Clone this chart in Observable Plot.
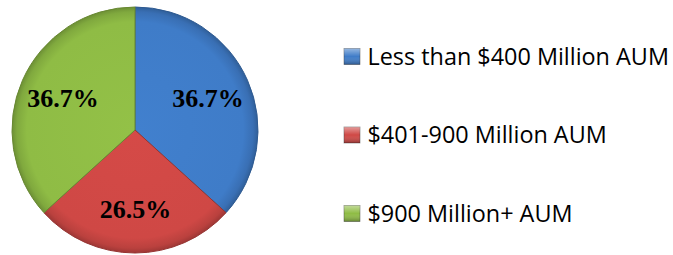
<!DOCTYPE html>
<html><head><meta charset="utf-8">
<script src="https://cdn.jsdelivr.net/npm/d3@7"></script>
<script src="https://cdn.jsdelivr.net/npm/@observablehq/plot@0.6"></script>
<style>body{margin:0;background:#fff}</style>
</head><body><div id="chart"></div>
<script>
const categories = ["Less than $400 Million AUM", "$401-900 Million AUM", "$900 Million+ AUM"];
const shares = [36.7, 26.5, 36.7];
const labels = ["36.7%", "26.5%", "36.7%"];

const palette = ["#3f7cc8", "#cf4845", "#8fbc45"];
const W = 673, H = 255;
const cx = 135, cy = 130, R = 123;

const data = categories.map((c, i) => ({category: c, share: shares[i], label: labels[i], i}));
const slices = d3.pie().sort(null).value(d => d.share)(data);
const labelArc = d3.arc().innerRadius(R * 0.645).outerRadius(R * 0.645);
const labelData = slices.map(s => {
  const [dx, dy] = labelArc.centroid(s);
  return {x: cx + dx, y: cy + dy, text: s.data.label};
});

const legendTop = 56.5, legendStep = 78.5, sw = 16, swX = 344, textX = 367;
const legendData = data.map((d, i) => {
  const y = legendTop + i * legendStep;
  return {...d, y, x1: swX, x2: swX + sw, y1: y - sw / 2, y2: y + sw / 2, tx: textX};
});

function pieMark(index, scales) {
  const g = d3.create("svg:g");
  const defs = g.append("defs");
  const px = scales.x(cx), py = scales.y(cy);
  const rr = scales.x(cx + R) - px;
  palette.forEach((c, i) => {
    const grad = defs.append("radialGradient").attr("id", "pg" + i)
      .attr("gradientUnits", "userSpaceOnUse").attr("cx", 0).attr("cy", 0).attr("r", rr);
    const base = d3.color(c);
    grad.append("stop").attr("offset", 0).attr("stop-color", base.brighter(0.08));
    grad.append("stop").attr("offset", 0.88).attr("stop-color", base);
    grad.append("stop").attr("offset", 0.96).attr("stop-color", base.darker(0.3));
    grad.append("stop").attr("offset", 1).attr("stop-color", base.darker(0.75));
  });
  const sh = defs.append("linearGradient").attr("id", "shine").attr("x1", 0).attr("y1", 0).attr("x2", 0).attr("y2", 1);
  sh.append("stop").attr("offset", 0).attr("stop-color", "#fff").attr("stop-opacity", 0.45);
  sh.append("stop").attr("offset", 0.5).attr("stop-color", "#fff").attr("stop-opacity", 0);
  sh.append("stop").attr("offset", 1).attr("stop-color", "#000").attr("stop-opacity", 0.3);
  const arc = d3.arc().innerRadius(0).outerRadius(rr);
  g.selectAll("path").data(slices).join("path")
    .attr("transform", `translate(${px},${py})`)
    .attr("d", arc)
    .attr("fill", (d, i) => `url(#pg${i})`)
    .attr("stroke", (d, i) => d3.color(palette[i]).darker(0.9).formatHex())
    .attr("stroke-width", 1)
    .attr("stroke-linejoin", "round");
  return g.node();
}

const chart = Plot.plot({
  width: W, height: H, margin: 0,
  style: {background: "#fff", overflow: "visible"},
  x: {domain: [0, W], range: [0, W], axis: null},
  y: {domain: [0, H], range: [0, H], axis: null},
  color: {domain: categories, range: palette},
  marks: [
    pieMark,
    Plot.text(labelData, {x: "x", y: "y", text: "text", fontSize: 26, fontWeight: "bold",
      fontFamily: "Liberation Serif, Times New Roman, serif", fill: "#000"}),
    Plot.rect(legendData, {x1: "x1", x2: "x2", y1: "y1", y2: "y2", fill: "category",
      stroke: "#333", strokeOpacity: 0.5, strokeWidth: 0.8}),
    Plot.rect(legendData, {x1: "x1", x2: "x2", y1: "y1", y2: "y2", fill: "url(#shine)"}),
    Plot.text(legendData, {x: "tx", y: "y", text: "category", textAnchor: "start",
      fontSize: 23.4, fontFamily: "Open Sans, sans-serif", fill: "#000"})
  ]
});
document.getElementById("chart").appendChild(chart);
</script>
</body></html>
